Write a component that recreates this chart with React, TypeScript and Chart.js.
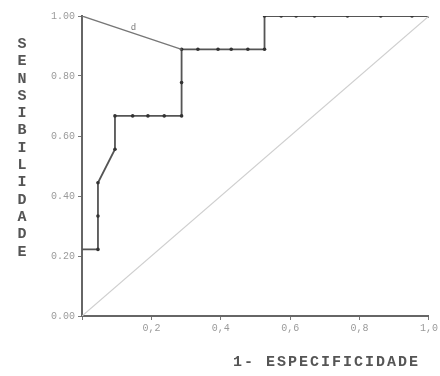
import React, { useEffect, useRef } from "react";
import { Chart, registerables } from "chart.js";

Chart.register(...registerables);

// 1 - specificity (x) and sensitivity (y) of the ROC steps
const rocX = [0, 0.046, 0.046, 0.046, 0.095, 0.095, 0.146, 0.19, 0.237, 0.287, 0.287, 0.287, 0.334, 0.392, 0.43, 0.478, 0.526, 0.526, 0.574, 0.617, 0.67, 0.765, 0.861, 0.951, 1.0];
const rocY = [0.222, 0.222, 0.333, 0.444, 0.556, 0.667, 0.667, 0.667, 0.667, 0.667, 0.778, 0.889, 0.889, 0.889, 0.889, 0.889, 0.889, 1.0, 1.0, 1.0, 1.0, 1.0, 1.0, 1.0, 1.0];
const rocMarkers = [0, 1, 1, 1, 1, 1, 1, 1, 1, 1, 1, 1, 1, 1, 1, 1, 1, 1, 1, 1, 1, 1, 1, 1, 1];

// chord from (0,1) to the optimal point
const chordX = [0, 0.287];
const chordY = [1.0, 0.889];

// reference diagonal
const diagX = [0, 1];
const diagY = [0, 1];

const annotText = "d";
const annotX = 0.148;
const annotY = 0.962;

const xTicks = [0, 0.2, 0.4, 0.6, 0.8, 1.0];
const yTicks = [0, 0.2, 0.4, 0.6, 0.8, 1.0];

const yTitle = "SENSIBILIDADE";
const xTitle = "1- ESPECIFICIDADE";

const toPts = (xs: number[], ys: number[]) => xs.map((x, i) => ({ x, y: ys[i] }));

const annotPlugin = {
  id: "annot",
  afterDatasetsDraw(chart: any) {
    const { ctx, scales } = chart;
    ctx.save();
    ctx.font = "9px 'Liberation Mono', monospace";
    ctx.fillStyle = "#777";
    ctx.textAlign = "center";
    ctx.textBaseline = "middle";
    ctx.fillText(annotText, scales.x.getPixelForValue(annotX), scales.y.getPixelForValue(annotY));
    ctx.restore();
  },
};

export default function App() {
  const ref = useRef<HTMLCanvasElement | null>(null);

  useEffect(() => {
    document.body.style.margin = "0";
    if (!ref.current) return;
    const tickFont = { family: "'Liberation Mono', monospace", size: 10 };
    const chart = new Chart(ref.current, {
      type: "scatter",
      data: {
        datasets: [
          {
            data: toPts(diagX, diagY),
            showLine: true,
            borderColor: "#cfcfcf",
            borderWidth: 1.2,
            pointRadius: 0,
          },
          {
            data: toPts(chordX, chordY),
            showLine: true,
            borderColor: "#777",
            borderWidth: 1.3,
            pointRadius: 0,
          },
          {
            data: toPts(rocX, rocY),
            showLine: true,
            borderColor: "#555",
            borderWidth: 1.8,
            pointRadius: rocMarkers.map((m) => (m ? 1.8 : 0)),
            pointBackgroundColor: "#333",
            pointBorderColor: "#333",
            pointBorderWidth: 0,
          },
        ],
      },
      options: {
        animation: false,
        responsive: true,
        maintainAspectRatio: false,
        layout: { padding: { left: 0, right: 10, top: 16, bottom: 0 } },
        plugins: { legend: { display: false }, tooltip: { enabled: false } },
        scales: {
          x: {
            type: "linear",
            min: 0,
            max: 1,
            afterBuildTicks: (s: any) => {
              s.ticks = xTicks.map((v) => ({ value: v }));
            },
            afterFit: (s: any) => {
              s.height = 60;
            },
            ticks: {
              font: tickFont,
              color: "#9a9a9a",
              padding: 2,
              maxRotation: 0,
              callback: (v: any) => (Number(v) === 0 ? "" : Number(v).toFixed(1).replace(".", ",")),
            },
            grid: { drawOnChartArea: false, drawTicks: true, tickLength: 4, color: "#777" },
            border: { display: true, color: "#666", width: 2 },
          },
          y: {
            type: "linear",
            min: 0,
            max: 1,
            afterBuildTicks: (s: any) => {
              s.ticks = yTicks.map((v) => ({ value: v }));
            },
            afterFit: (s: any) => {
              s.width = 82;
            },
            ticks: {
              font: tickFont,
              color: "#9a9a9a",
              padding: 3,
              callback: (v: any) => Number(v).toFixed(2),
            },
            grid: { drawOnChartArea: false, drawTicks: true, tickLength: 4, color: "#777" },
            border: { display: true, color: "#666", width: 2 },
          },
        },
      },
      plugins: [annotPlugin],
    });
    return () => chart.destroy();
  }, []);

  return (
    <div style={{ position: "relative", width: 440, height: 376, background: "#fff", overflow: "hidden" }}>
      <canvas ref={ref} />
      <div
        style={{
          position: "absolute",
          left: 13,
          top: 36,
          width: 18,
          textAlign: "center",
          fontFamily: "'Liberation Mono', monospace",
          fontSize: 15,
          lineHeight: "17.3px",
          color: "#555",
          fontWeight: "bold",
        }}
      >
        {yTitle.split("").map((c, i) => (
          <div key={i}>{c}</div>
        ))}
      </div>
      <div
        style={{
          position: "absolute",
          left: 233,
          top: 355,
          whiteSpace: "nowrap",
          fontFamily: "'Liberation Mono', monospace",
          fontSize: 15,
          lineHeight: "16px",
          letterSpacing: "2px",
          color: "#555",
          fontWeight: "bold",
        }}
      >
        {xTitle}
      </div>
    </div>
  );
}
